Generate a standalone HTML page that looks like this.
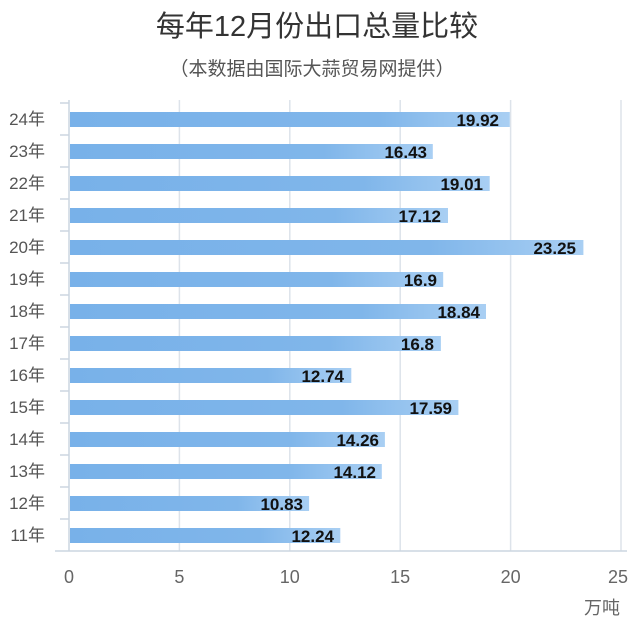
<!DOCTYPE html>
<html><head><meta charset="utf-8"><style>
body{margin:0;background:#fff;}
svg{display:block;font-family:"Liberation Sans","Noto Sans CJK SC",sans-serif;}
</style></head><body>
<svg width="635" height="622" viewBox="0 0 635 622">
<defs><linearGradient id="g" x1="0" x2="1" y1="0" y2="0">
<stop offset="0" stop-color="#78b1e9"/><stop offset="0.7" stop-color="#80b6ea"/><stop offset="1" stop-color="#a9cff3"/></linearGradient></defs>
<text x="317" y="36" text-anchor="middle" font-size="29" fill="#333">每年12月份出口总量比较</text>
<text x="312" y="75" text-anchor="middle" font-size="19" fill="#555">（本数据由国际大蒜贸易网提供）</text>
<g stroke="#dde3ea" stroke-width="1.5">
<line x1="179.4" y1="100" x2="179.4" y2="551"/>
<line x1="289.8" y1="100" x2="289.8" y2="551"/>
<line x1="400.2" y1="100" x2="400.2" y2="551"/>
<line x1="510.6" y1="100" x2="510.6" y2="551"/>
<line x1="621" y1="100" x2="621" y2="551"/>
</g>
<g stroke="#ccd6e0" stroke-width="1.5">
<line x1="69" y1="100" x2="69" y2="551"/>
<line x1="55" y1="551" x2="627" y2="551"/>
<line x1="60" y1="103" x2="69" y2="103"/><line x1="60" y1="135" x2="69" y2="135"/><line x1="60" y1="167" x2="69" y2="167"/><line x1="60" y1="199" x2="69" y2="199"/><line x1="60" y1="231" x2="69" y2="231"/><line x1="60" y1="263" x2="69" y2="263"/><line x1="60" y1="295" x2="69" y2="295"/><line x1="60" y1="327" x2="69" y2="327"/><line x1="60" y1="359" x2="69" y2="359"/><line x1="60" y1="391" x2="69" y2="391"/><line x1="60" y1="423" x2="69" y2="423"/><line x1="60" y1="455" x2="69" y2="455"/><line x1="60" y1="487" x2="69" y2="487"/><line x1="60" y1="519" x2="69" y2="519"/>
</g>
<g font-size="17" fill="#555" text-anchor="end">
<text x="45" y="125">24年</text><text x="45" y="157">23年</text><text x="45" y="189">22年</text><text x="45" y="221">21年</text><text x="45" y="253">20年</text><text x="45" y="285">19年</text><text x="45" y="317">18年</text><text x="45" y="349">17年</text><text x="45" y="381">16年</text><text x="45" y="413">15年</text><text x="45" y="445">14年</text><text x="45" y="477">13年</text><text x="45" y="509">12年</text><text x="45" y="541">11年</text>
</g>
<g fill="url(#g)">
<rect x="70" y="112" width="439.8" height="15"/>
<rect x="70" y="144" width="362.8" height="15"/>
<rect x="70" y="176" width="419.7" height="15"/>
<rect x="70" y="208" width="378" height="15"/>
<rect x="70" y="240" width="513.4" height="15"/>
<rect x="70" y="272" width="373.2" height="15"/>
<rect x="70" y="304" width="416" height="15"/>
<rect x="70" y="336" width="370.9" height="15"/>
<rect x="70" y="368" width="281.3" height="15"/>
<rect x="70" y="400" width="388.4" height="15"/>
<rect x="70" y="432" width="314.9" height="15"/>
<rect x="70" y="464" width="311.8" height="15"/>
<rect x="70" y="496" width="239.1" height="15"/>
<rect x="70" y="528" width="270.3" height="15"/>
</g>
<g font-size="17" font-weight="bold" fill="#111" text-anchor="end">
<text x="499" y="126">19.92</text>
<text x="427" y="158">16.43</text>
<text x="483" y="190">19.01</text>
<text x="441" y="222">17.12</text>
<text x="576" y="254">23.25</text>
<text x="437" y="286">16.9</text>
<text x="480" y="318">18.84</text>
<text x="434" y="350">16.8</text>
<text x="344" y="382">12.74</text>
<text x="452" y="414">17.59</text>
<text x="379" y="446">14.26</text>
<text x="376" y="478">14.12</text>
<text x="303" y="510">10.83</text>
<text x="334" y="542">12.24</text>
</g>
<g font-size="18" fill="#666" text-anchor="middle">
<text x="69" y="583">0</text><text x="179.4" y="583">5</text><text x="289.8" y="583">10</text><text x="400.2" y="583">15</text><text x="510.6" y="583">20</text><text x="618" y="583">25</text>
<text x="602" y="614">万吨</text>
</g>
</svg>
</body></html>
